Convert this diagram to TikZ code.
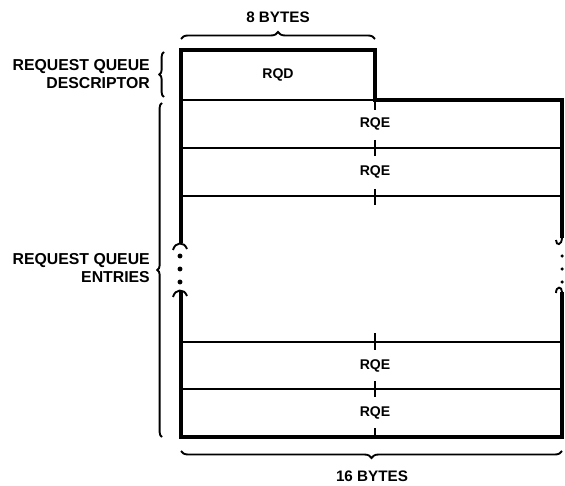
\documentclass[tikz,border=0pt]{standalone}
\usepackage{fontspec}
\setmainfont{Liberation Sans}
\usetikzlibrary{decorations.pathreplacing,positioning}

\begin{document}
\begin{tikzpicture}[
    x=0.03cm, y=-0.03cm,
    frame/.style={line width=3.2pt},
    row/.style={line width=1.6pt},
    field/.style={font=\fontsize{12}{13}\selectfont\bfseries, inner sep=0pt},
    lbl/.style={font=\fontsize{13.5}{15}\selectfont\bfseries, align=right, anchor=east, inner sep=0pt},
    span/.style={font=\fontsize{13}{14}\selectfont\bfseries, inner sep=0pt},
    brc/.style={decorate, decoration={brace, amplitude=6pt}, line width=1.6pt},
    sidebrc/.style={decorate, decoration={brace, amplitude=4pt}, line width=1.6pt},
    dot/.style={circle, fill, inner sep=0pt, minimum size=4.2pt}
]
\useasboundingbox (0,0) rectangle (565,486);

% outline of the queue
\coordinate (tl) at (181,50);
\coordinate (rqd) at (375,50);
\coordinate (step) at (375,100);
\coordinate (tr) at (562,100);
\coordinate (bl) at (181,437);
\coordinate (br) at (562,437);
\draw[frame] (181,243) -- (tl) -- (rqd) -- (step) -- (tr) -- (562,238);
\draw[frame] (181,291) -- (bl) -- (br) -- (562,292);

% entry lines and ticks
\draw[row] (181,100) -- (step);
\foreach \y in {148,196,342,389}
    \draw[row] (181,\y) -- (562,\y);
\foreach \a/\b in {100/110,140/156,189/205,333/350,381/397,428/437}
    \draw[row] (375,\a) -- (375,\b);

% break marks
\draw[row] (173,250) .. controls (175,242) and (184,241) .. (187,249);
\draw[row] (173,297) .. controls (175,289) and (184,288) .. (187,296);
\draw[row] (562,237) .. controls (562,246) and (556,246) .. (556,240);
\draw[row] (556,293) .. controls (556,286) and (562,286) .. (562,292);
\foreach \y [count=\i] in {256,269,282} {
    \node[dot] (ldot\i) at (180,\y) {};
    \node[dot, minimum size=3pt] (rdot\i) at (562,\y) {};
}

% fields
\node[field] (rqdtext) at (278,75) {RQD};
\foreach \y [count=\i] in {124,172,366,413}
    \node[field] (rqe\i) at (375,\y) {RQE};

% braces
\draw[brc] (181,39) -- (375,39);
\node[span] (eight) at (278,17) {8 BYTES};
\draw[brc] (562,451) -- (181,451);
\node[span] (sixteen) at (372,476) {16 BYTES};
\draw[sidebrc] (164,97) -- (164,52);
\node[lbl] (desc) at (150,74) {REQUEST QUEUE\\DESCRIPTOR};
\draw[sidebrc] (162,437) -- (162,103);
\node[lbl] (entries) at (150,268) {REQUEST QUEUE\\ENTRIES};
\end{tikzpicture}
\end{document}
